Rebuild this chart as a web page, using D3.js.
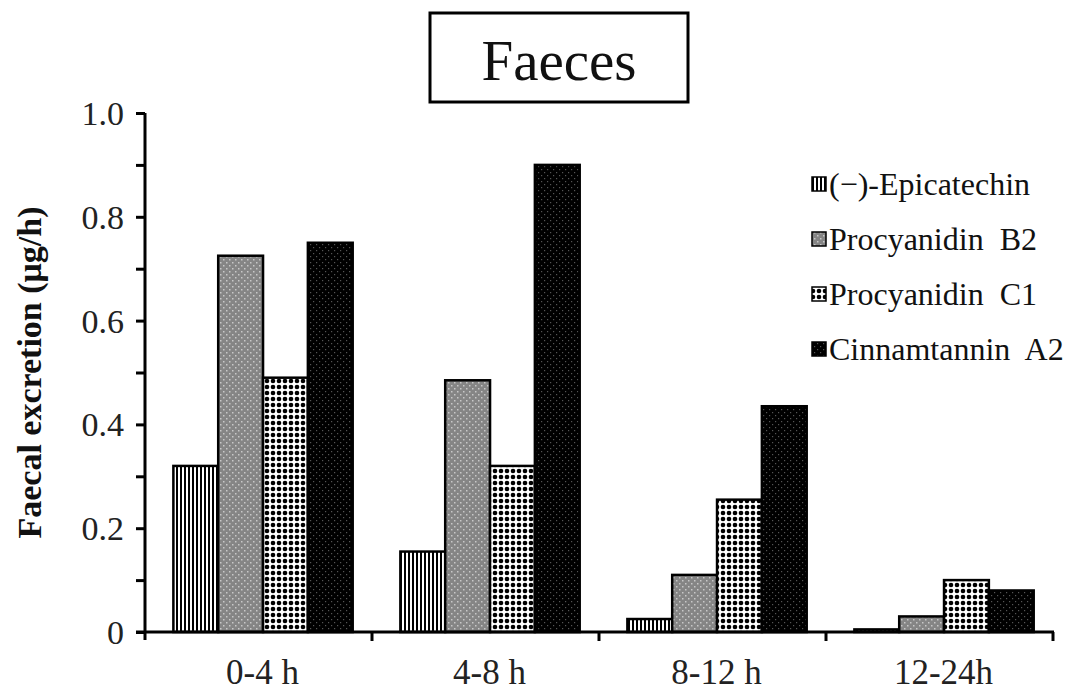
<!DOCTYPE html>
<html><head><meta charset="utf-8">
<script src="https://cdn.jsdelivr.net/npm/d3@7/dist/d3.min.js"></script>
<style>html,body{margin:0;padding:0;background:#fff;}svg{display:block;}text{font-family:"Liberation Serif","Times New Roman",Times,"DejaVu Serif",serif;}</style>
</head><body>
<svg id="c" width="1083" height="695"></svg>
<script>
const categories = ["0-4 h", "4-8 h", "8-12 h", "12-24h"];
const seriesNames = ["(\u2212)-Epicatechin", "Procyanidin\u00a0 B2", "Procyanidin\u00a0 C1", "Cinnamtannin\u00a0 A2"];
const epicatechin = [0.32, 0.155, 0.025, 0.005];
const procyanidinB2 = [0.725, 0.485, 0.11, 0.03];
const procyanidinC1 = [0.49, 0.32, 0.255, 0.1];
const cinnamtanninA2 = [0.75, 0.9, 0.435, 0.08];
const yTicks = [0, 0.1, 0.2, 0.3, 0.4, 0.5, 0.6, 0.7, 0.8, 0.9, 1.0];
const yLabels = ["0", "0.2", "0.4", "0.6", "0.8", "1.0"];
const title = "Faeces";
const yTitle = "Faecal excretion (\u03bcg/h)";

const series = [epicatechin, procyanidinB2, procyanidinC1, cinnamtanninA2];
const svg = d3.select("#c");
const defs = svg.append("defs");

// patterns
const p0 = defs.append("pattern").attr("id","pat0").attr("patternUnits","userSpaceOnUse").attr("width",4).attr("height",4);
p0.append("rect").attr("width",4).attr("height",4).attr("fill","#fff");
p0.append("rect").attr("width",2).attr("height",4).attr("fill","#000");

const p1 = defs.append("pattern").attr("id","pat1").attr("patternUnits","userSpaceOnUse").attr("width",6).attr("height",6);
p1.append("rect").attr("width",6).attr("height",6).attr("fill","#858585");
p1.append("rect").attr("x",1).attr("y",1).attr("width",1.5).attr("height",1.5).attr("fill","#c8c8c8");
p1.append("rect").attr("x",4).attr("y",4).attr("width",1.5).attr("height",1.5).attr("fill","#c8c8c8");

const p2 = defs.append("pattern").attr("id","pat2").attr("patternUnits","userSpaceOnUse").attr("width",6).attr("height",6);
p2.append("rect").attr("width",6).attr("height",6).attr("fill","#fff");
p2.append("circle").attr("cx",3).attr("cy",3).attr("r",2.3).attr("fill","#000");

const p3 = defs.append("pattern").attr("id","pat3").attr("patternUnits","userSpaceOnUse").attr("width",6).attr("height",6);
p3.append("rect").attr("width",6).attr("height",6).attr("fill","#000");
p3.append("rect").attr("x",1).attr("y",1).attr("width",1.2).attr("height",1.2).attr("fill","#555");
p3.append("rect").attr("x",4).attr("y",4).attr("width",1.2).attr("height",1.2).attr("fill","#555");

const x0 = 145, x1 = 1053, yBase = 632, yTop = 113;
const x = d3.scaleBand().domain(categories).range([x0, x1]).paddingInner(0).paddingOuter(0);
const xs = d3.scaleBand().domain(d3.range(series.length)).range([x.bandwidth()*0.125, x.bandwidth()*0.915]).padding(0);
const y = d3.scaleLinear().domain([0, 1]).range([yBase, yTop]);

// bars
const g = svg.append("g");
categories.forEach((cat, ci) => {
  series.forEach((s, si) => {
    g.append("rect")
      .attr("x", x(cat) + xs(si))
      .attr("y", y(s[ci]))
      .attr("width", xs.bandwidth())
      .attr("height", y(0) - y(s[ci]))
      .attr("fill", `url(#pat${si})`)
      .attr("stroke", "#000").attr("stroke-width", 2.5);
  });
});

// y axis
const yAxis = d3.axisLeft(y).tickValues(yTicks).tickSize(9).tickFormat("");
const ya = svg.append("g").attr("transform", `translate(${x0},0)`).call(yAxis);
ya.select(".domain").attr("stroke","#000").attr("stroke-width",3).attr("d", `M0,${yTop}V${yBase+8}`);
ya.selectAll(".tick line").attr("stroke","#000").attr("stroke-width",3);
svg.append("g").selectAll("text").data(yLabels).join("text")
  .attr("x", x0 - 21).attr("y", d => y(+d)).attr("dy","0.35em")
  .attr("text-anchor","end").attr("font-size",34).attr("fill","#222").text(d => d);

// x axis
const xa = svg.append("g").attr("transform", `translate(0,${yBase})`);
xa.append("line").attr("x1", x0-9).attr("x2", x1+1).attr("stroke","#000").attr("stroke-width",3);
const bounds = categories.map(c => x(c)).slice(1).concat([x1]);
xa.selectAll("line.t").data(bounds).join("line").attr("class","t")
  .attr("x1", d=>d).attr("x2", d=>d).attr("y1",0).attr("y2",9).attr("stroke","#000").attr("stroke-width",3);
xa.selectAll("text").data(categories).join("text")
  .attr("x", d => x(d) + x.bandwidth()/2 + 4).attr("y", 52)
  .attr("text-anchor","middle").attr("font-size",35).attr("fill","#222").text(d => d);

// y title
svg.append("text").attr("transform", `translate(41,${(yTop+yBase)/2}) rotate(-90)`)
  .attr("text-anchor","middle").attr("font-size",34).attr("font-weight","bold").attr("fill","#111").text(yTitle);

// title box
svg.append("rect").attr("x",430).attr("y",13).attr("width",258).attr("height",89)
  .attr("fill","#fff").attr("stroke","#000").attr("stroke-width",3);
svg.append("text").attr("x",559).attr("y",80).attr("text-anchor","middle").attr("font-size",57).attr("fill","#111").text(title);

// legend
const lg = svg.append("g");
seriesNames.forEach((n, i) => {
  const cy = 184 + i*55;
  lg.append("rect").attr("x",812).attr("y",cy-7).attr("width",14).attr("height",14)
    .attr("fill",`url(#pat${i})`).attr("stroke","#000").attr("stroke-width",1.5);
  lg.append("text").attr("x",829).attr("y",cy).attr("dy","0.35em").attr("font-size",32).attr("fill","#111").text(n);
});
</script>
</body></html>
